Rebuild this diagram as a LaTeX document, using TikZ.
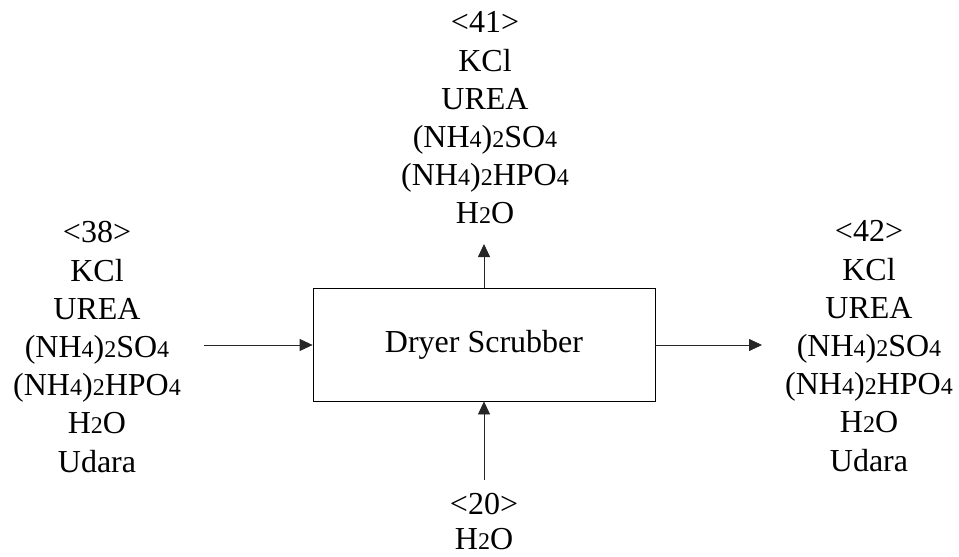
\documentclass[tikz,border=0pt]{standalone}
\usepackage{fontspec}
\setmainfont{Liberation Serif}
\usetikzlibrary{arrows.meta}
\newcommand{\smdig}[1]{{\fontsize{24}{38}\selectfont #1}}
\begin{document}
\begin{tikzpicture}[x=1pt,y=-1pt,
  lbl/.style={align=center,anchor=north,inner sep=0pt,font=\fontsize{32}{38.2}\selectfont},
  flow/.style={line width=0.8pt,draw=black!85,-{Triangle[length=13pt,width=12pt]}},
  unit/.style={draw,line width=0.8pt,minimum width=342pt,minimum height=113pt,inner sep=0pt,font=\fontsize{32}{38}\selectfont}]
\useasboundingbox (0,0) rectangle (959,557);
\node[unit] (box) at (484,344.5) {Dryer Scrubber};
\node[lbl] (s38) at (97,216) {\strut<38>\\KCl\\UREA\\(NH\smdig{4})\smdig{2}SO\smdig{4}\\(NH\smdig{4})\smdig{2}HPO\smdig{4}\\H\smdig{2}O\\Udara};
\node[lbl] (s41) at (485,6) {\strut<41>\\KCl\\UREA\\(NH\smdig{4})\smdig{2}SO\smdig{4}\\(NH\smdig{4})\smdig{2}HPO\smdig{4}\\H\smdig{2}O};
\node[lbl] (s42) at (869,215) {\strut<42>\\KCl\\UREA\\(NH\smdig{4})\smdig{2}SO\smdig{4}\\(NH\smdig{4})\smdig{2}HPO\smdig{4}\\H\smdig{2}O\\Udara};
\node[lbl,font=\fontsize{32}{35}\selectfont] (s20) at (484,490) {\strut<20>\\H\smdig{2}O};
\coordinate (inL) at (204,345);
\coordinate (outR) at (762,345);
\coordinate (outT) at (484,244);
\coordinate (inB) at (484,480);
\draw[flow] (inL) -- (box.west |- inL);
\draw[flow] (box.east |- outR) -- (outR);
\draw[flow] (box.north) -- (outT);
\draw[flow] (inB) -- (box.south);
\end{tikzpicture}
\end{document}
